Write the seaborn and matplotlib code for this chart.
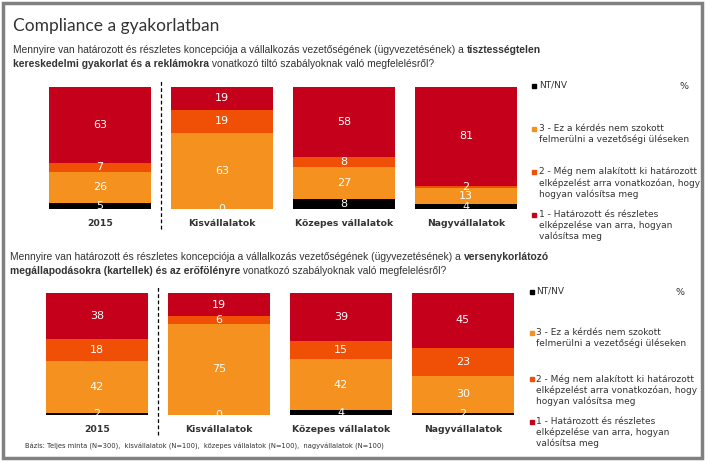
import numpy as np
import pandas as pd
import seaborn as sns
import matplotlib.pyplot as plt
from matplotlib.patches import Rectangle

sns.set_theme(style="white")
plt.rcParams['font.family'] = ['DejaVu Sans']

# Data
categories = ["2015", "Kisvállalatok", "Közepes vállalatok", "Nagyvállalatok"]
series_names = [
    "NT/NV",
    "3 - Ez a kérdés nem szokott\nfelmerülni a vezetőségi üléseken",
    "2 - Még nem alakított ki határozott\nelképzelést arra vonatkozóan, hogy\nhogyan valósítsa meg",
    "1 - Határozott és részletes\nelképzelése van arra, hogyan\nvalósítsa meg",
]
# top chart: tisztességtelen kereskedelmi gyakorlat
top_ntnv = [5, 0, 8, 4]
top_c3 = [26, 63, 27, 13]
top_c2 = [7, 19, 8, 2]
top_c1 = [63, 19, 58, 81]
# bottom chart: versenykorlátozó megállapodások
bot_ntnv = [2, 0, 4, 2]
bot_c3 = [42, 75, 42, 30]
bot_c2 = [18, 6, 15, 23]
bot_c1 = [38, 19, 39, 45]

colors = ["#000000", "#F5911E", "#F05005", "#C5001A"]
text_col = "#333333"

W, H = 706, 462
fig = plt.figure(figsize=(W / 100, H / 100), dpi=100)
renderer = fig.canvas.get_renderer()


def fx(x):
    return x / W


def fy(y):
    return 1 - y / H


def rich_line(x, y, parts, size):
    # draw a line made of regular / bold pieces one after another
    px = x
    for s, bold in parts:
        t = fig.text(fx(px), fy(y), s, fontsize=size, color=text_col,
                     fontweight="bold" if bold else "normal",
                     family="Liberation Sans", va="baseline")
        px += t.get_window_extent(renderer).width


def stacked(ax, series):
    bottom = np.zeros(len(categories))
    totals = np.sum(series, axis=0)
    for vals, col in zip(series, colors):
        share = np.array(vals) / totals * 100
        sns.barplot(x=categories, y=share, bottom=bottom, color=col,
                    saturation=1, width=0.836, errorbar=None, linewidth=0,
                    ax=ax)
        for i, (v, s) in enumerate(zip(vals, share)):
            ax.text(i, bottom[i] + s / 2, str(v), ha="center", va="center",
                    color="white", fontsize=8, clip_on=True)
        bottom += share
    ax.set_xlim(-0.5, 3.5)
    ax.set_ylim(0, 100)
    ax.set_yticks([])
    ax.set_ylabel("")
    sns.despine(ax=ax, left=True, bottom=True)
    ax.tick_params(axis="x", length=0, pad=7)
    for lab in ax.get_xticklabels():
        lab.set_fontweight("bold")
        lab.set_fontsize(6.7)
        lab.set_color(text_col)
    ax.axvline(0.5, ymin=-0.16, ymax=1.06, color="black", lw=0.9,
               ls=(0, (3, 2)), clip_on=False)


def legend(x_sq, x_txt, ys, pct_x):
    for (lines, col), y in zip(zip(series_names, colors), ys):
        fig.patches.append(Rectangle((fx(x_sq), fy(y + 2)), 4 / W, 4 / H,
                                     color=col, transform=fig.transFigure))
        fig.text(fx(x_txt), fy(y - 5), lines, fontsize=6.5, color=text_col,
                 va="top", linespacing=1.22)
    fig.text(fx(pct_x), fy(ys[0] + 3), "%", fontsize=6.8, color=text_col)


# title
fig.text(fx(13), fy(31), "Compliance a gyakorlatban", fontsize=12.5,
         family="Lato", color=text_col, va="baseline")

# questions
base = "Mennyire van határozott és részletes koncepciója a vállalkozás vezetőségének (ügyvezetésének) a "
rich_line(13, 53, [(base, False), ("tisztességtelen", True)], 7.4)
rich_line(13, 67, [("kereskedelmi gyakorlat és a reklámokra", True),
                   (" vonatkozó tiltó szabályoknak való megfelelésről?", False)], 7.4)
rich_line(10, 260, [(base, False), ("versenykorlátozó", True)], 7.4)
rich_line(10, 274, [("megállapodásokra (kartellek) és az erőfölényre", True),
                    (" vonatkozó szabályoknak való megfelelésről?", False)], 7.4)

ax1 = fig.add_axes([fx(39), fy(209), (527 - 39) / W, 122 / H])
stacked(ax1, [top_ntnv, top_c3, top_c2, top_c1])
ax2 = fig.add_axes([fx(36), fy(415), (524 - 36) / W, 122 / H])
stacked(ax2, [bot_ntnv, bot_c3, bot_c2, bot_c1])

legend(532, 539, [86, 129, 172, 215], 680)
legend(530, 536, [292, 333, 379, 422], 676)

fig.text(fx(25), fy(449), "Bázis: Teljes minta (N=300),  kisvállalatok (N=100),  "
         "közepes vállalatok (N=100),  nagyvállalatok (N=100)",
         fontsize=4.9, color=text_col)

# outer frame
fig.patches.append(Rectangle((fx(3), fy(458)), 699 / W, 455 / H, fill=False,
                             edgecolor="#808080", lw=2.5,
                             transform=fig.transFigure))

fig.savefig("out.png", dpi=100)
